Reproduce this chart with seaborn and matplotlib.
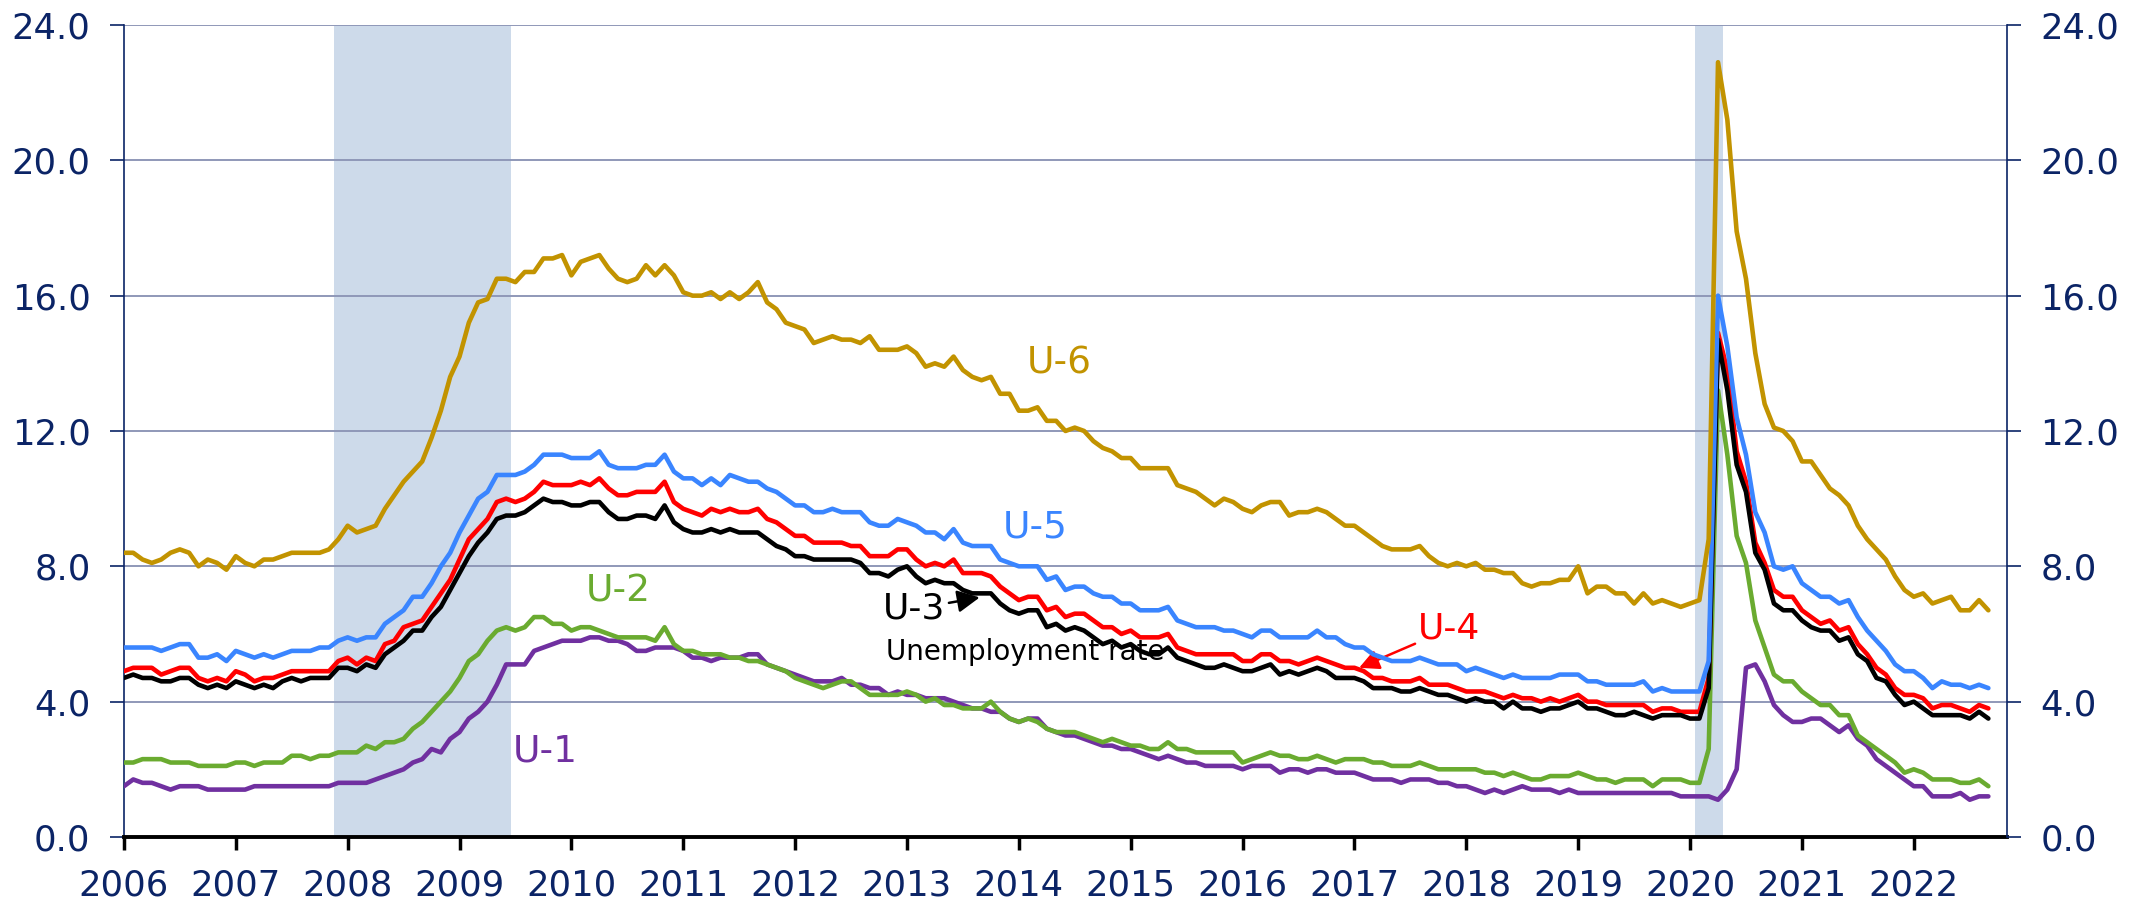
import numpy as np
import pandas as pd
import seaborn as sns
import matplotlib.pyplot as plt

# monthly rates, Jan 2006 - Sep 2022 (one row per year)
u1 = [1.5, 1.7, 1.6, 1.6, 1.5, 1.4, 1.5, 1.5, 1.5, 1.4, 1.4, 1.4,
      1.4, 1.4, 1.5, 1.5, 1.5, 1.5, 1.5, 1.5, 1.5, 1.5, 1.5, 1.6,
      1.6, 1.6, 1.6, 1.7, 1.8, 1.9, 2.0, 2.2, 2.3, 2.6, 2.5, 2.9,
      3.1, 3.5, 3.7, 4.0, 4.5, 5.1, 5.1, 5.1, 5.5, 5.6, 5.7, 5.8,
      5.8, 5.8, 5.9, 5.9, 5.8, 5.8, 5.7, 5.5, 5.5, 5.6, 5.6, 5.6,
      5.5, 5.3, 5.3, 5.2, 5.3, 5.3, 5.3, 5.4, 5.4, 5.1, 5.0, 4.9,
      4.8, 4.7, 4.6, 4.6, 4.6, 4.7, 4.5, 4.5, 4.4, 4.4, 4.2, 4.3,
      4.2, 4.2, 4.1, 4.1, 4.1, 4.0, 3.9, 3.8, 3.8, 3.7, 3.7, 3.5,
      3.4, 3.5, 3.5, 3.2, 3.1, 3.0, 3.0, 2.9, 2.8, 2.7, 2.7, 2.6,
      2.6, 2.5, 2.4, 2.3, 2.4, 2.3, 2.2, 2.2, 2.1, 2.1, 2.1, 2.1,
      2.0, 2.1, 2.1, 2.1, 1.9, 2.0, 2.0, 1.9, 2.0, 2.0, 1.9, 1.9,
      1.9, 1.8, 1.7, 1.7, 1.7, 1.6, 1.7, 1.7, 1.7, 1.6, 1.6, 1.5,
      1.5, 1.4, 1.3, 1.4, 1.3, 1.4, 1.5, 1.4, 1.4, 1.4, 1.3, 1.4,
      1.3, 1.3, 1.3, 1.3, 1.3, 1.3, 1.3, 1.3, 1.3, 1.3, 1.3, 1.2,
      1.2, 1.2, 1.2, 1.1, 1.4, 2.0, 5.0, 5.1, 4.6, 3.9, 3.6, 3.4,
      3.4, 3.5, 3.5, 3.3, 3.1, 3.3, 2.9, 2.7, 2.3, 2.1, 1.9, 1.7,
      1.5, 1.5, 1.2, 1.2, 1.2, 1.3, 1.1, 1.2, 1.2]

u2 = [2.2, 2.2, 2.3, 2.3, 2.3, 2.2, 2.2, 2.2, 2.1, 2.1, 2.1, 2.1,
      2.2, 2.2, 2.1, 2.2, 2.2, 2.2, 2.4, 2.4, 2.3, 2.4, 2.4, 2.5,
      2.5, 2.5, 2.7, 2.6, 2.8, 2.8, 2.9, 3.2, 3.4, 3.7, 4.0, 4.3,
      4.7, 5.2, 5.4, 5.8, 6.1, 6.2, 6.1, 6.2, 6.5, 6.5, 6.3, 6.3,
      6.1, 6.2, 6.2, 6.1, 6.0, 5.9, 5.9, 5.9, 5.9, 5.8, 6.2, 5.7,
      5.5, 5.5, 5.4, 5.4, 5.4, 5.3, 5.3, 5.2, 5.2, 5.1, 5.0, 4.9,
      4.7, 4.6, 4.5, 4.4, 4.5, 4.6, 4.6, 4.4, 4.2, 4.2, 4.2, 4.2,
      4.3, 4.2, 4.0, 4.1, 3.9, 3.9, 3.8, 3.8, 3.8, 4.0, 3.7, 3.5,
      3.4, 3.5, 3.4, 3.2, 3.1, 3.1, 3.1, 3.0, 2.9, 2.8, 2.9, 2.8,
      2.7, 2.7, 2.6, 2.6, 2.8, 2.6, 2.6, 2.5, 2.5, 2.5, 2.5, 2.5,
      2.2, 2.3, 2.4, 2.5, 2.4, 2.4, 2.3, 2.3, 2.4, 2.3, 2.2, 2.3,
      2.3, 2.3, 2.2, 2.2, 2.1, 2.1, 2.1, 2.2, 2.1, 2.0, 2.0, 2.0,
      2.0, 2.0, 1.9, 1.9, 1.8, 1.9, 1.8, 1.7, 1.7, 1.8, 1.8, 1.8,
      1.9, 1.8, 1.7, 1.7, 1.6, 1.7, 1.7, 1.7, 1.5, 1.7, 1.7, 1.7,
      1.6, 1.6, 2.6, 13.2, 11.3, 8.9, 8.1, 6.4, 5.6, 4.8, 4.6, 4.6,
      4.3, 4.1, 3.9, 3.9, 3.6, 3.6, 3.0, 2.8, 2.6, 2.4, 2.2, 1.9,
      2.0, 1.9, 1.7, 1.7, 1.7, 1.6, 1.6, 1.7, 1.5]

u3 = [4.7, 4.8, 4.7, 4.7, 4.6, 4.6, 4.7, 4.7, 4.5, 4.4, 4.5, 4.4,
      4.6, 4.5, 4.4, 4.5, 4.4, 4.6, 4.7, 4.6, 4.7, 4.7, 4.7, 5.0,
      5.0, 4.9, 5.1, 5.0, 5.4, 5.6, 5.8, 6.1, 6.1, 6.5, 6.8, 7.3,
      7.8, 8.3, 8.7, 9.0, 9.4, 9.5, 9.5, 9.6, 9.8, 10.0, 9.9, 9.9,
      9.8, 9.8, 9.9, 9.9, 9.6, 9.4, 9.4, 9.5, 9.5, 9.4, 9.8, 9.3,
      9.1, 9.0, 9.0, 9.1, 9.0, 9.1, 9.0, 9.0, 9.0, 8.8, 8.6, 8.5,
      8.3, 8.3, 8.2, 8.2, 8.2, 8.2, 8.2, 8.1, 7.8, 7.8, 7.7, 7.9,
      8.0, 7.7, 7.5, 7.6, 7.5, 7.5, 7.3, 7.2, 7.2, 7.2, 6.9, 6.7,
      6.6, 6.7, 6.7, 6.2, 6.3, 6.1, 6.2, 6.1, 5.9, 5.7, 5.8, 5.6,
      5.7, 5.5, 5.4, 5.4, 5.6, 5.3, 5.2, 5.1, 5.0, 5.0, 5.1, 5.0,
      4.9, 4.9, 5.0, 5.1, 4.8, 4.9, 4.8, 4.9, 5.0, 4.9, 4.7, 4.7,
      4.7, 4.6, 4.4, 4.4, 4.4, 4.3, 4.3, 4.4, 4.3, 4.2, 4.2, 4.1,
      4.0, 4.1, 4.0, 4.0, 3.8, 4.0, 3.8, 3.8, 3.7, 3.8, 3.8, 3.9,
      4.0, 3.8, 3.8, 3.7, 3.6, 3.6, 3.7, 3.6, 3.5, 3.6, 3.6, 3.6,
      3.5, 3.5, 4.4, 14.7, 13.2, 11.0, 10.2, 8.4, 7.9, 6.9, 6.7, 6.7,
      6.4, 6.2, 6.1, 6.1, 5.8, 5.9, 5.4, 5.2, 4.7, 4.6, 4.2, 3.9,
      4.0, 3.8, 3.6, 3.6, 3.6, 3.6, 3.5, 3.7, 3.5]

u4 = [4.9, 5.0, 5.0, 5.0, 4.8, 4.9, 5.0, 5.0, 4.7, 4.6, 4.7, 4.6,
      4.9, 4.8, 4.6, 4.7, 4.7, 4.8, 4.9, 4.9, 4.9, 4.9, 4.9, 5.2,
      5.3, 5.1, 5.3, 5.2, 5.7, 5.8, 6.2, 6.3, 6.4, 6.8, 7.2, 7.6,
      8.2, 8.8, 9.1, 9.4, 9.9, 10.0, 9.9, 10.0, 10.2, 10.5, 10.4, 10.4,
      10.4, 10.5, 10.4, 10.6, 10.3, 10.1, 10.1, 10.2, 10.2, 10.2, 10.5, 9.9,
      9.7, 9.6, 9.5, 9.7, 9.6, 9.7, 9.6, 9.6, 9.7, 9.4, 9.3, 9.1,
      8.9, 8.9, 8.7, 8.7, 8.7, 8.7, 8.6, 8.6, 8.3, 8.3, 8.3, 8.5,
      8.5, 8.2, 8.0, 8.1, 8.0, 8.2, 7.8, 7.8, 7.8, 7.7, 7.4, 7.2,
      7.0, 7.1, 7.1, 6.7, 6.8, 6.5, 6.6, 6.6, 6.4, 6.2, 6.2, 6.0,
      6.1, 5.9, 5.9, 5.9, 6.0, 5.6, 5.5, 5.4, 5.4, 5.4, 5.4, 5.4,
      5.2, 5.2, 5.4, 5.4, 5.2, 5.2, 5.1, 5.2, 5.3, 5.2, 5.1, 5.0,
      5.0, 4.9, 4.7, 4.7, 4.6, 4.6, 4.6, 4.7, 4.5, 4.5, 4.5, 4.4,
      4.3, 4.3, 4.3, 4.2, 4.1, 4.2, 4.1, 4.1, 4.0, 4.1, 4.0, 4.1,
      4.2, 4.0, 4.0, 3.9, 3.9, 3.9, 3.9, 3.9, 3.7, 3.8, 3.8, 3.7,
      3.7, 3.7, 4.7, 14.9, 13.8, 11.4, 10.5, 8.7, 8.1, 7.3, 7.1, 7.1,
      6.7, 6.5, 6.3, 6.4, 6.1, 6.2, 5.7, 5.4, 5.0, 4.8, 4.4, 4.2,
      4.2, 4.1, 3.8, 3.9, 3.9, 3.8, 3.7, 3.9, 3.8]

u5 = [5.6, 5.6, 5.6, 5.6, 5.5, 5.6, 5.7, 5.7, 5.3, 5.3, 5.4, 5.2,
      5.5, 5.4, 5.3, 5.4, 5.3, 5.4, 5.5, 5.5, 5.5, 5.6, 5.6, 5.8,
      5.9, 5.8, 5.9, 5.9, 6.3, 6.5, 6.7, 7.1, 7.1, 7.5, 8.0, 8.4,
      9.0, 9.5, 10.0, 10.2, 10.7, 10.7, 10.7, 10.8, 11.0, 11.3, 11.3, 11.3,
      11.2, 11.2, 11.2, 11.4, 11.0, 10.9, 10.9, 10.9, 11.0, 11.0, 11.3, 10.8,
      10.6, 10.6, 10.4, 10.6, 10.4, 10.7, 10.6, 10.5, 10.5, 10.3, 10.2, 10.0,
      9.8, 9.8, 9.6, 9.6, 9.7, 9.6, 9.6, 9.6, 9.3, 9.2, 9.2, 9.4,
      9.3, 9.2, 9.0, 9.0, 8.8, 9.1, 8.7, 8.6, 8.6, 8.6, 8.2, 8.1,
      8.0, 8.0, 8.0, 7.6, 7.7, 7.3, 7.4, 7.4, 7.2, 7.1, 7.1, 6.9,
      6.9, 6.7, 6.7, 6.7, 6.8, 6.4, 6.3, 6.2, 6.2, 6.2, 6.1, 6.1,
      6.0, 5.9, 6.1, 6.1, 5.9, 5.9, 5.9, 5.9, 6.1, 5.9, 5.9, 5.7,
      5.6, 5.6, 5.4, 5.3, 5.2, 5.2, 5.2, 5.3, 5.2, 5.1, 5.1, 5.1,
      4.9, 5.0, 4.9, 4.8, 4.7, 4.8, 4.7, 4.7, 4.7, 4.7, 4.8, 4.8,
      4.8, 4.6, 4.6, 4.5, 4.5, 4.5, 4.5, 4.6, 4.3, 4.4, 4.3, 4.3,
      4.3, 4.3, 5.2, 16.0, 14.5, 12.4, 11.3, 9.6, 9.0, 8.0, 7.9, 8.0,
      7.5, 7.3, 7.1, 7.1, 6.9, 7.0, 6.5, 6.1, 5.8, 5.5, 5.1, 4.9,
      4.9, 4.7, 4.4, 4.6, 4.5, 4.5, 4.4, 4.5, 4.4]

u6 = [8.4, 8.4, 8.2, 8.1, 8.2, 8.4, 8.5, 8.4, 8.0, 8.2, 8.1, 7.9,
      8.3, 8.1, 8.0, 8.2, 8.2, 8.3, 8.4, 8.4, 8.4, 8.4, 8.5, 8.8,
      9.2, 9.0, 9.1, 9.2, 9.7, 10.1, 10.5, 10.8, 11.1, 11.8, 12.6, 13.6,
      14.2, 15.2, 15.8, 15.9, 16.5, 16.5, 16.4, 16.7, 16.7, 17.1, 17.1, 17.2,
      16.6, 17.0, 17.1, 17.2, 16.8, 16.5, 16.4, 16.5, 16.9, 16.6, 16.9, 16.6,
      16.1, 16.0, 16.0, 16.1, 15.9, 16.1, 15.9, 16.1, 16.4, 15.8, 15.6, 15.2,
      15.1, 15.0, 14.6, 14.7, 14.8, 14.7, 14.7, 14.6, 14.8, 14.4, 14.4, 14.4,
      14.5, 14.3, 13.9, 14.0, 13.9, 14.2, 13.8, 13.6, 13.5, 13.6, 13.1, 13.1,
      12.6, 12.6, 12.7, 12.3, 12.3, 12.0, 12.1, 12.0, 11.7, 11.5, 11.4, 11.2,
      11.2, 10.9, 10.9, 10.9, 10.9, 10.4, 10.3, 10.2, 10.0, 9.8, 10.0, 9.9,
      9.7, 9.6, 9.8, 9.9, 9.9, 9.5, 9.6, 9.6, 9.7, 9.6, 9.4, 9.2,
      9.2, 9.0, 8.8, 8.6, 8.5, 8.5, 8.5, 8.6, 8.3, 8.1, 8.0, 8.1,
      8.0, 8.1, 7.9, 7.9, 7.8, 7.8, 7.5, 7.4, 7.5, 7.5, 7.6, 7.6,
      8.0, 7.2, 7.4, 7.4, 7.2, 7.2, 6.9, 7.2, 6.9, 7.0, 6.9, 6.8,
      6.9, 7.0, 8.8, 22.9, 21.2, 17.9, 16.5, 14.3, 12.8, 12.1, 12.0, 11.7,
      11.1, 11.1, 10.7, 10.3, 10.1, 9.8, 9.2, 8.8, 8.5, 8.2, 7.7, 7.3,
      7.1, 7.2, 6.9, 7.0, 7.1, 6.7, 6.7, 7.0, 6.7]

years = list(range(2006, 2023))
yticks = [0, 4, 8, 12, 16, 20, 24]
# recession months as (start, end) index from Jan 2006
recessions = [(23, 41), (169, 171)]

colors = {"U-1": "#7030A0", "U-2": "#6AAB30", "U-3": "#000000",
          "U-4": "#FF0000", "U-5": "#3A85FF", "U-6": "#C29300"}
navy = "#0B2466"

series = {"U-1": u1, "U-2": u2, "U-3": u3, "U-4": u4, "U-5": u5, "U-6": u6}
frames = []
for name, vals in series.items():
    frames.append(pd.DataFrame({"month": np.arange(len(vals)), "rate": vals, "series": name}))
df = pd.concat(frames, ignore_index=True)

sns.set_style("white")
plt.rcParams['font.family'] = ['DejaVu Sans']

fig, ax = plt.subplots(figsize=(21.29, 9.06), dpi=100)
fig.subplots_adjust(left=0.0582, right=0.9427, top=0.9724, bottom=0.0762)

# recession shading
for start, end in recessions:
    ax.axvspan(start - 0.5, end + 0.5, color="#CDDAEA", lw=0, zorder=0)

for y in yticks[1:]:
    ax.axhline(y, color="#8F98B8", lw=1.4, zorder=0.5)

sns.lineplot(data=df, x="month", y="rate", hue="series", palette=colors,
             hue_order=["U-1", "U-2", "U-4", "U-3", "U-5", "U-6"],
             linewidth=3.3, legend=False, ax=ax, zorder=3)

ax.set_xlim(0, 202)
ax.set_ylim(0, 24)
ax.set_xlabel("")
ax.set_ylabel("")

ax.set_xticks([12 * i for i in range(len(years))])
ax.set_xticklabels([str(y) for y in years])
ax.set_yticks(yticks)
ax.set_yticklabels([f"{v:.1f}" for v in yticks])

ax.tick_params(axis="x", direction="out", length=9, width=2.5, color="black",
               labelsize=25.5, labelcolor=navy, pad=14, bottom=True)
ax.tick_params(axis="y", direction="out", length=10, width=1.2, color=navy,
               labelsize=25.5, labelcolor=navy, pad=14, left=True)

for side in ["top", "right"]:
    ax.spines[side].set_visible(False)
ax.spines["left"].set_color(navy)
ax.spines["left"].set_linewidth(1.2)
ax.spines["bottom"].set_color("black")
ax.spines["bottom"].set_linewidth(2.8)
ax.spines["bottom"].set_zorder(4)

ax2 = ax.twinx()
ax2.set_ylim(0, 24)
ax2.set_yticks(yticks)
ax2.set_yticklabels([f"{v:.1f}" for v in yticks])
ax2.tick_params(axis="y", direction="out", length=10, width=1.2, color=navy,
                labelsize=25.5, labelcolor=navy, pad=14, right=True)
for side in ["top", "left", "bottom"]:
    ax2.spines[side].set_visible(False)
ax2.spines["right"].set_color(navy)
ax2.spines["right"].set_linewidth(1.2)

# series labels
ax.text(100.3, 14.0, "U-6", color=colors["U-6"], fontsize=27, ha="center", va="center", zorder=2)
ax.text(97.7, 9.16, "U-5", color=colors["U-5"], fontsize=27, ha="center", va="center", zorder=2)
ax.text(53.0, 7.27, "U-2", color=colors["U-2"], fontsize=27, ha="center", va="center", zorder=2)
ax.text(45.2, 2.54, "U-1", color=colors["U-1"], fontsize=27, ha="center", va="center", zorder=2)
ax.text(81.7, 5.47, "Unemployment rate", color="black", fontsize=20, ha="left", va="center", zorder=2)
ax.annotate("U-3", xy=(91.8, 7.08), xytext=(84.8, 6.74), color="black", fontsize=26,
            ha="center", va="center", zorder=2,
            arrowprops=dict(arrowstyle="-|>", color="black", lw=1.8, mutation_scale=34,
                            shrinkA=0, shrinkB=0))
ax.annotate("U-4", xy=(132.5, 5.0), xytext=(142.2, 6.15), color=colors["U-4"], fontsize=26,
            ha="center", va="center", zorder=2,
            arrowprops=dict(arrowstyle="-|>", color=colors["U-4"], lw=1.8, mutation_scale=30,
                            shrinkA=0, shrinkB=0))

fig.savefig("out.png", dpi=100)
